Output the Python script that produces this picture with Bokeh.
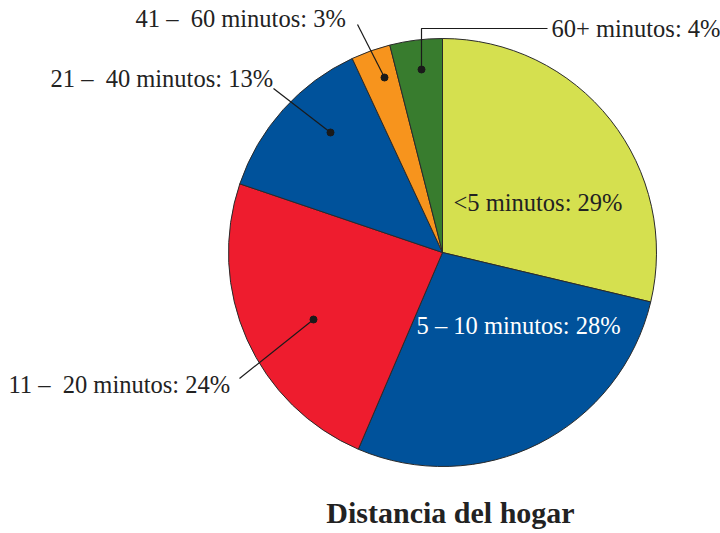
import math
from bokeh.plotting import figure
from bokeh.models import Range1d, ColumnDataSource
from bokeh.core.properties import value
from bokeh.embed import file_html
from bokeh.resources import INLINE

# ---- data ----
categories = ["<5 minutos", "5 – 10 minutos", "11 –\u00a0 20 minutos",
              "21 –\u00a0 40 minutos", "41 –\u00a0 60 minutos", "60+ minutos"]
percents = [29, 28, 24, 13, 3, 4]
colors = ["#D5E04F", "#00529B", "#EE1C2E", "#00529B", "#F7941D", "#387C2E"]
title_text = "Distancia del hogar"

W, H = 720, 533


def py(y_page):
    return H - y_page


p = figure(width=W, height=H, output_backend="svg", toolbar_location=None,
           x_range=Range1d(0, W), y_range=Range1d(0, H),
           min_border=0)
p.axis.visible = False
p.grid.visible = False
p.outline_line_color = None
p.background_fill_color = "white"

cx, cy, r = 442, py(252), 214

total = sum(percents)
starts, ends = [], []
cum = 0
for v in percents:
    a0 = math.pi / 2 - 2 * math.pi * cum / total
    cum += v
    a1 = math.pi / 2 - 2 * math.pi * cum / total
    starts.append(a1)
    ends.append(a0)

src = ColumnDataSource(dict(start=starts, end=ends, color=colors))
p.wedge(x=cx, y=cy, radius=r, start_angle="start", end_angle="end",
        fill_color="color", line_color="#2a2a2a", line_width=1, source=src)

labels = [f"{c}: {v}%" for c, v in zip(categories, percents)]

FONT = value("Liberation Serif")
# label layout: (x_page, middle_y_page, color)
label_pos = [(453, 202, "#222222"), (416, 325, "white"), (8, 384, "#222222"),
             (50, 78, "#222222"), (135, 18, "#222222"), (551, 28, "#222222")]
for t, (lx, ly, col) in zip(labels, label_pos):
    p.text(x=[lx], y=[py(ly)], text=[t], text_font=FONT, text_font_size="24.5px",
           text_color=col, text_align="left", text_baseline="middle")

# leader lines: list of page points; last point is the dot
leaders = [
    [(239, 378), (313, 319)],
    [(273, 88), (330, 132)],
    [(357, 24), (384, 77)],
    [(547, 28), (421, 28), (421, 69)],
]
for pts in leaders:
    p.line(x=[q[0] for q in pts], y=[py(q[1]) for q in pts],
           line_color="#1a1a1a", line_width=1.2)
    p.scatter(x=[pts[-1][0]], y=[py(pts[-1][1])], size=7,
              fill_color="#1a1a1a", line_color="#1a1a1a")

p.text(x=[450], y=[py(512)], text=[title_text], text_font=FONT,
       text_font_size="30px", text_font_style="bold", text_color="#222222",
       text_align="center", text_baseline="middle")

open("out.html", "w").write(file_html(p, INLINE))
